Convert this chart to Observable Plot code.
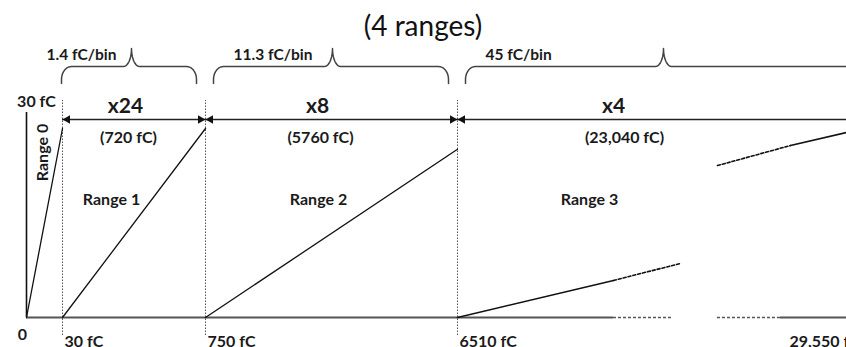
<!DOCTYPE html>
<html><head><meta charset="utf-8">
<script src="https://cdn.jsdelivr.net/npm/d3@7"></script>
<script src="https://cdn.jsdelivr.net/npm/@observablehq/plot@0.6"></script>
<style>
html,body{margin:0;padding:0;background:#fff;overflow:hidden;}
#title{font:28px Lato,sans-serif;height:46px;line-height:50px;text-align:center;color:#111;overflow:visible;white-space:nowrap;}
#chart svg{display:block;}
</style></head><body>
<div id="title">(4 ranges)</div>
<div id="chart"></div>
<script>
// ---------- data ----------
const boundaries = [0, 30, 750, 6510, 29550];           // charge boundaries, fC
const tickLabels = ["30 fC", "750 fC", "6510 fC", "29,550 fC"];
const gains = ["x24", "x8", "x4"];
const spans = ["(720 fC)", "(5760 fC)", "(23,040 fC)"];
const binSizes = ["1.4 fC/bin", "11.3 fC/bin", "45 fC/bin"];
const rangeNames = ["Range 0", "Range 1", "Range 2", "Range 3"];
const fullScaleLabel = "30 fC";
const originLabel = "0";
// transfer curves: [charge fC, output as fraction of full scale]
const range0 = [[0, 0], [30, 1]];
const range1 = [[30, 0], [750, 1]];
const range2 = [[750, 0], [6510, 0.89]];
const range3Solid = [[6510, 0], [17400, 0.196]];
const range3Dash = [[17400, 0.196], [22080, 0.286]];
const range3UpperDash = [[24660, 0.804], [29760, 0.91]];
const range3UpperSolid = [[29760, 0.91], [33670, 0.979]];
// baseline pieces [from fC, to fC]
const baselineSolid = [[0, 17400], [29060, 33670]];
const baselineDash = [[17400, 21500], [24660, 29060]];

// ---------- layout ----------
const W = 846, H = 301, TOP = 46;
const boundaryPx = [26, 62, 205, 457, 787];
const yRange = [271, 82];
// piecewise (broken) charge axis: fC -> display position
const xs = d3.scaleLinear().domain(boundaries).range(boundaryPx);
const ys = d3.scaleLinear().domain([0, 1]).range(yRange);
const X = p => xs.invert(p);
const Y = p => ys.invert(p - TOP);     // page pixel -> data
const xEdge = X(W);
const px = q => xs(q);

const toObj = a => a.map(([q, v]) => ({q, v}));

// braces
function bracePts(L, M, R, leftCurl, rightCurl) {
  const yEnd = 83, yH = 66, yPk = 48, rx = 10, ry = 13, px2 = 8;
  const pts = [];
  const arc = (cx, cy, ax, ay, a0, a1, n = 10) => {
    for (let i = 0; i <= n; i++) { const a = a0 + (a1 - a0) * i / n; pts.push([cx + ax * Math.cos(a), cy + ay * Math.sin(a)]); }
  };
  if (leftCurl) { pts.push([L, yEnd]); arc(L + rx, yH + ry, rx, ry, Math.PI, 1.5 * Math.PI); }
  else pts.push([L, yH]);
  arc(M - px2, yPk, px2, yH - yPk, Math.PI / 2, 0);
  arc(M + px2, yPk, px2, yH - yPk, Math.PI, Math.PI / 2);
  if (rightCurl) { arc(R - rx, yH + ry, rx, ry, -Math.PI / 2, 0); pts.push([R, yEnd]); }
  else pts.push([R, yH]);
  return pts.map(([a, b]) => ({x: X(a), y: Y(b)}));
}
const braces = [
  bracePts(px(30) - 1, 131, px(750) - 9, true, true),
  bracePts(px(750) + 8, 332, px(6510) - 9, true, true),
  bracePts(px(6510) + 8, 663, W, true, false)
];

const arrowY = Y(119);
const arrowSegs = [[30, 750], [750, 6510], [6510, xEdge]];
const headsRight = [750, 6510];
const headsLeft = [30, 750, 6510];

const textFont = {fontFamily: "Lato, sans-serif", fontWeight: "bold", fill: "#1a1a1a"};
const lineStyle = {stroke: "#111", strokeWidth: 1.3};

const chart = Plot.plot({
  width: W, height: H, margin: 0,
  x: {transform: xs, domain: [0, W], range: [0, W], axis: null},
  y: {domain: [0, 1], range: yRange, axis: null},
  style: {fontFamily: "Lato, sans-serif", background: "#fff", overflow: "hidden"},
  marks: [
    // dotted dividers
    Plot.ruleX(boundaries.slice(1, 4), {y1: Y(335), y2: Y(100), stroke: "#555", strokeWidth: 1, strokeDasharray: "1.5 1.5"}),
    // baseline
    Plot.ruleY(baselineSolid, {y: 0, x1: d => d[0], x2: d => d[1], stroke: "#555", strokeWidth: 2}),
    Plot.ruleY(baselineDash, {y: 0, x1: d => d[0], x2: d => d[1], stroke: "#555", strokeWidth: 1.6, strokeDasharray: "3 2"}),
    // y axis line
    Plot.ruleX([0], {y1: 0, y2: Y(112), stroke: "#111", strokeWidth: 1.6}),
    // transfer lines
    Plot.line(toObj(range0), {x: "q", y: "v", ...lineStyle}),
    Plot.line(toObj(range1), {x: "q", y: "v", ...lineStyle}),
    Plot.line(toObj(range2), {x: "q", y: "v", ...lineStyle}),
    Plot.line(toObj(range3Solid), {x: "q", y: "v", ...lineStyle, strokeWidth: 1.6}),
    Plot.line(toObj(range3Dash), {x: "q", y: "v", ...lineStyle, strokeWidth: 1.6, strokeDasharray: "3 2"}),
    Plot.line(toObj(range3UpperDash), {x: "q", y: "v", ...lineStyle, strokeWidth: 1.6, strokeDasharray: "3 2"}),
    Plot.line(toObj(range3UpperSolid), {x: "q", y: "v", ...lineStyle, strokeWidth: 1.6}),
    // arrows
    Plot.ruleY(arrowSegs, {y: arrowY, x1: d => d[0], x2: d => d[1], stroke: "#222", strokeWidth: 1.5}),
    Plot.dot(headsRight, {x: d => d, y: arrowY, symbol: "triangle", r: 3.2, rotate: 90, dx: -5, fill: "#111", stroke: "none"}),
    Plot.dot(headsLeft, {x: d => d, y: arrowY, symbol: "triangle", r: 3.2, rotate: -90, dx: 5, fill: "#111", stroke: "none"}),
    // braces
    ...braces.map(b => Plot.line(b, {x: "x", y: "y", stroke: "#444", strokeWidth: 1.5})),
    // bin size labels
    Plot.text(binSizes, {x: [X(46), X(233), X(485)], y: Y(55), text: d => d, textAnchor: "start", fontSize: 15.5, ...textFont}),
    // gains
    Plot.text(gains, {x: [X(125), X(317), X(613)], y: Y(106), text: d => d, fontSize: 21, ...textFont}),
    // spans
    Plot.text(spans, {x: [X(128), X(320), X(624)], y: Y(137), text: d => d, fontSize: 16, ...textFont}),
    // range names
    Plot.text([rangeNames[0]], {x: X(42), y: Y(152), text: d => d, rotate: -90, fontSize: 16, ...textFont}),
    Plot.text(rangeNames.slice(1), {x: [X(111), X(318), X(589)], y: Y(199), text: d => d, fontSize: 16, ...textFont}),
    // axis labels
    Plot.text([fullScaleLabel], {x: X(36), y: Y(101), text: d => d, fontSize: 16, ...textFont}),
    Plot.text([originLabel], {x: X(22), y: Y(334), text: d => d, fontSize: 16, ...textFont}),
    Plot.text(tickLabels, {x: boundaries.slice(1), y: Y(341), text: d => d, textAnchor: "start", dx: 2, fontSize: 16, ...textFont})
  ]
});
document.getElementById("chart").appendChild(chart);
</script>
</body></html>
